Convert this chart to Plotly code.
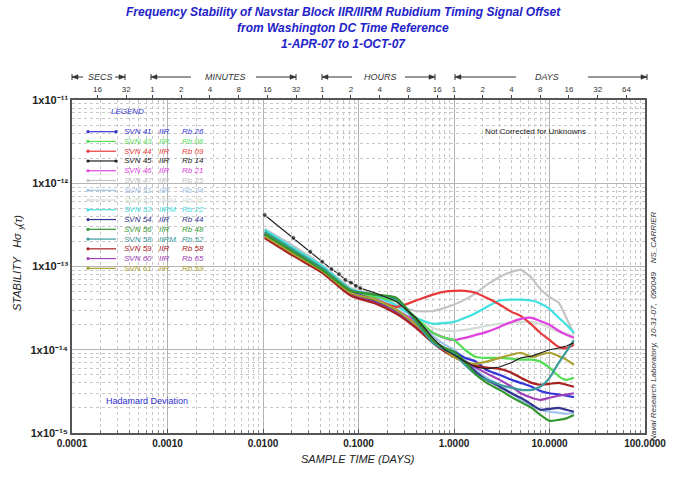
import plotly.graph_objects as go

# ---------------- data ----------------
tau_days = [0.0104, 0.0208, 0.0417, 0.0833, 0.15, 0.25, 0.4, 0.6, 0.8, 1.0, 1.3, 1.7,
            2.2, 3, 4, 5, 6.5, 8, 10, 12.5, 15, 18]
tau_black = [0.0104, 0.0208, 0.03125, 0.0417, 0.0521, 0.0625, 0.0729, 0.0833, 0.0938, 0.1042,
             0.15, 0.25, 0.4, 0.6, 0.8, 1.0, 1.3, 1.7, 2.2, 3, 4, 5, 6.5, 8, 10, 12.5, 15, 18]

# stability values in units of 1e-14
svn41 = [24.6, 15.0, 9.1, 5.0, 3.9, 2.85, 2.0, 1.31, 1.0, 0.95, 0.80, 0.72, 0.57, 0.50, 0.435, 0.40, 0.36, 0.32, 0.30, 0.29, 0.28, 0.27]
svn43 = [26.0, 15.8, 9.6, 5.2, 4.3, 3.8, 2.42, 1.6, 1.39, 1.31, 1.0, 0.82, 0.80, 0.80, 0.78, 0.76, 0.76, 0.72, 0.61, 0.48, 0.435, 0.46]
svn44 = [25.3, 15.4, 9.3, 5.1, 4.0, 3.27, 3.9, 4.6, 5.0, 5.1, 5.1, 4.8, 4.2, 3.5, 2.85, 2.55, 2.0, 1.6, 1.31, 1.08, 1.05, 1.15]
svn45 = [41.6, 22.0, 15.0, 11.4, 9.3, 8.1, 6.9, 6.4, 5.85, 5.5, 4.8, 3.8, 2.42, 1.39, 1.0, 0.87, 0.72, 0.62, 0.59, 0.62, 0.70, 0.80, 0.84, 0.92, 1.0, 1.05, 1.11, 1.21]
svn46 = [25.3, 15.4, 9.3, 5.2, 4.1, 2.92, 2.22, 1.6, 1.39, 1.31, 1.39, 1.51, 1.64, 1.88, 2.16, 2.35, 2.42, 2.22, 2.0, 1.69, 1.51, 1.39]
svn47 = [28.2, 17.7, 10.4, 5.5, 4.6, 3.5, 2.92, 2.92, 3.18, 3.5, 4.0, 4.8, 6.0, 7.5, 8.6, 9.1, 7.3, 5.35, 4.3, 3.66, 2.42, 1.55]
svn51 = [27.5, 16.6, 10.1, 5.35, 4.3, 3.1, 2.16, 1.47, 1.15, 1.0, 0.76, 0.57, 0.46, 0.38, 0.30, 0.25, 0.21, 0.19, 0.18, 0.175, 0.17, 0.175]
svn52 = [27.5, 16.6, 10.1, 5.35, 4.3, 3.38, 2.42, 1.83, 1.69, 1.69, 1.73, 1.83, 1.94, 2.05, 2.1, 2.16, 2.16, 2.05, 1.83, 1.64, 1.55, 1.47]
svn53 = [27.5, 16.6, 10.1, 5.35, 4.45, 3.38, 2.42, 2.05, 2.1, 2.16, 2.42, 2.77, 3.27, 3.9, 4.0, 4.0, 3.9, 3.6, 3.1, 2.42, 2.0, 1.6]
svn54 = [23.9, 14.6, 8.85, 4.8, 3.8, 2.85, 1.88, 1.25, 1.0, 0.87, 0.72, 0.54, 0.435, 0.36, 0.30, 0.265, 0.22, 0.19, 0.195, 0.20, 0.19, 0.18]
svn56 = [24.6, 15.0, 9.1, 5.1, 4.6, 4.2, 2.28, 1.31, 1.05, 0.95, 0.72, 0.50, 0.40, 0.33, 0.27, 0.235, 0.20, 0.165, 0.14, 0.144, 0.15, 0.165]
svn58 = [26.0, 15.8, 9.6, 5.2, 4.6, 4.0, 2.16, 1.21, 1.0, 0.9, 0.66, 0.50, 0.435, 0.38, 0.35, 0.33, 0.33, 0.36, 0.46, 0.70, 0.95, 1.31]
svn59 = [22.0, 13.4, 8.4, 4.45, 3.6, 2.7, 1.83, 1.21, 0.95, 0.82, 0.72, 0.64, 0.61, 0.59, 0.53, 0.46, 0.40, 0.38, 0.39, 0.40, 0.38, 0.36]
svn60 = [22.6, 13.8, 8.6, 4.6, 3.66, 2.77, 1.88, 1.28, 1.0, 0.87, 0.72, 0.61, 0.52, 0.435, 0.36, 0.30, 0.265, 0.25, 0.265, 0.28, 0.29, 0.30]
svn61 = [23.2, 14.2, 8.85, 4.8, 4.0, 3.0, 2.0, 1.31, 1.0, 0.82, 0.70, 0.68, 0.72, 0.80, 0.87, 0.92, 0.82, 0.87, 0.92, 0.84, 0.76, 0.66]

labels_svn = ["SVN 41", "SVN 43", "SVN 44", "SVN 45", "SVN 46", "SVN 47", "SVN 51", "SVN 52",
              "SVN 53", "SVN 54", "SVN 56", "SVN 58", "SVN 59", "SVN 60", "SVN 61"]
labels_block = ["IIR", "IIR", "IIR", "IIR", "IIR", "IIR", "IIR", "IIRM",
                "IIRM", "IIR", "IIR", "IIRM", "IIR", "IIR", "IIR"]
labels_rb = ["Rb 26", "Rb 06", "Rb 09", "Rb 14", "Rb 21", "Rb 25", "Rb 24", "Rb 35",
             "Rb 22", "Rb 44", "Rb 48", "Rb 52", "Rb 58", "Rb 65", "Rb 59"]
series = [svn41, svn43, svn44, svn45, svn46, svn47, svn51, svn52, svn53, svn54, svn56, svn58, svn59, svn60, svn61]
colors = ["#3535d8", "#55dd55", "#e83a3a", "#202020", "#e040e0", "#c4c4c4", "#9fc3ea", "#d3ddd3",
          "#3fe0e0", "#353590", "#34962f", "#3a9a9a", "#a82020", "#a040b8", "#aaa030"]
marked = [True, False, False, True, False, False, False, False, False, False, False, False, False, False, False]

x_tick_vals = [1e-4, 1e-3, 1e-2, 1e-1, 1, 10, 100]
x_tick_text = ["0.0001", "0.0010", "0.0100", "0.1000", "1.0000", "10.0000", "100.0000"]
y_tick_vals = [1e-15, 1e-14, 1e-13, 1e-12, 1e-11]
y_tick_text = ["1x10⁻¹⁵", "1x10⁻¹⁴", "1x10⁻¹³", "1x10⁻¹²", "1x10⁻¹¹"]
sec_ticks = [16, 32]
min_ticks = [1, 2, 4, 8, 16, 32]
hour_ticks = [1, 2, 4, 8, 16]
day_ticks = [1, 2, 4, 8, 16, 32, 64]

# ---------------- geometry helpers (layout only) ----------------
W, H = 683, 491
L, R, T, B = 72, 645, 100, 433


def px(x):
    return (x - L) / (R - L)


def py(y):
    return (B - y) / (B - T)


FONT = "Liberation Sans, Arial, sans-serif"
fig = go.Figure()

draw_order = [5, 7, 6, 8, 2, 4, 1, 0, 9, 13, 12, 14, 11, 10, 3]
for i in draw_order:
    vals = [v * 1e-14 for v in series[i]]
    if labels_svn[i] == "SVN 45":
        sizes = [5 if t < 0.11 else 0 for t in tau_black]
        fig.add_trace(go.Scatter(x=tau_black, y=vals, mode="lines+markers",
                                 line=dict(color=colors[i], width=1.2),
                                 marker=dict(size=sizes, color=colors[i]),
                                 showlegend=False, hoverinfo="skip"))
    else:
        fig.add_trace(go.Scatter(x=tau_days, y=vals, mode="lines",
                                 line=dict(color=colors[i], width=2.2, shape="spline", smoothing=0.6),
                                 showlegend=False, hoverinfo="skip"))

# dummy trace so the top axis is drawn
fig.add_trace(go.Scatter(x=[1e-4, 100], y=[1e-15, 1e-15], xaxis="x2", mode="none",
                         showlegend=False, hoverinfo="skip"))

top_vals = [s / 86400 for s in sec_ticks] + [m / 1440 for m in min_ticks] + \
           [h / 24 for h in hour_ticks] + [float(d) for d in day_ticks]
top_text = [str(v) for v in sec_ticks + min_ticks + hour_ticks + day_ticks]

minor_x = [k * 10 ** e for e in range(-4, 2) for k in range(2, 10)]
minor_y = [k * 10.0 ** e for e in range(-15, -11) for k in range(2, 10)]

fig.update_layout(
    width=W, height=H,
    margin=dict(l=L, r=W - R, t=T, b=H - B),
    paper_bgcolor="white", plot_bgcolor="white",
    font=dict(family=FONT, color="black"),
    showlegend=False,
    xaxis=dict(type="log", range=[-4, 2],
               tickmode="array", tickvals=x_tick_vals, ticktext=x_tick_text,
               tickfont=dict(size=10, color="#222", weight="bold"),
               showgrid=True, gridcolor="#b4b4b4", gridwidth=1,
               ticks="inside", ticklen=4, tickcolor="#555",
               minor=dict(tickmode="array", tickvals=minor_x, showgrid=True,
                          gridcolor="#c8c8c8", griddash="dot", ticks="inside", ticklen=3,
                          tickcolor="#777"),
               showline=True, linecolor="#555", linewidth=1.5, zeroline=False),
    xaxis2=dict(type="log", range=[-4, 2], overlaying="x", side="top", anchor="y",
                tickmode="array", tickvals=top_vals, ticktext=top_text,
                tickfont=dict(size=8, color="#333"),
                ticks="outside", ticklen=3, tickcolor="#444",
                showgrid=False, showline=True, linecolor="#555", linewidth=1.5),
    yaxis=dict(type="log", range=[-15, -11],
               tickmode="array", tickvals=y_tick_vals, ticktext=y_tick_text,
               tickfont=dict(size=11, color="#222", weight="bold"),
               showgrid=True, gridcolor="#b4b4b4", gridwidth=1,
               ticks="",
               minor=dict(tickmode="array", tickvals=minor_y, showgrid=True,
                          gridcolor="#c8c8c8", griddash="dot"),
               showline=True, mirror=True, linecolor="#555", linewidth=1.5, zeroline=False),
)

ann = []
shapes = []
TITLE_C = "#2222c8"
for txt, yy in [("Frequency Stability of Navstar Block IIR/IIRM Rubidium Timing Signal Offset", 12),
                ("from Washington DC Time Reference", 28),
                ("1-APR-07 to 1-OCT-07", 44)]:
    ann.append(dict(text=txt, x=px(343), y=py(yy), xref="paper", yref="paper",
                    showarrow=False, xanchor="center", yanchor="middle",
                    font=dict(size=12, color=TITLE_C, family=FONT, weight="bold", style="italic")))

for txt, cx in [("SECS", 100), ("MINUTES", 225), ("HOURS", 380), ("DAYS", 547)]:
    ann.append(dict(text=txt, x=px(cx), y=py(77), xref="paper", yref="paper",
                    showarrow=False, xanchor="center", yanchor="middle",
                    font=dict(size=9, color="#333", family=FONT, style="italic")))
AY = 77
for head, tail in [(72, 83), (125, 115), (151, 191), (296, 256), (322, 352), (435, 405),
                   (455, 516), (647, 588)]:
    shapes.append(dict(type="line", xref="paper", yref="paper", x0=px(head), x1=px(tail),
                       y0=py(AY), y1=py(AY), line=dict(color="#333", width=1)))
    d = 6 if tail > head else -6
    path = "M %.5f %.5f L %.5f %.5f L %.5f %.5f Z" % (
        px(head), py(AY), px(head + d), py(AY - 2.3), px(head + d), py(AY + 2.3))
    shapes.append(dict(type="path", xref="paper", yref="paper", path=path,
                       fillcolor="#333", line=dict(color="#333", width=0.5)))
    shapes.append(dict(type="line", xref="paper", yref="paper", x0=px(head), x1=px(head),
                       y0=py(AY - 3), y1=py(AY + 3), line=dict(color="#333", width=1)))

ann.append(dict(text="LEGEND", x=px(109), y=py(111), xref="paper", yref="paper",
                showarrow=False, xanchor="left", yanchor="middle",
                font=dict(size=8, color="#3333cc", family=FONT, style="italic")))
for k in range(15):
    yy = 131.7 + k * 9.76
    c = colors[k]
    shapes.append(dict(type="line", xref="paper", yref="paper", x0=px(88), x1=px(116),
                       y0=py(yy), y1=py(yy), line=dict(color=c, width=1.2)))
    ends = [88, 116] if marked[k] else [88]
    for ex in ends:
        shapes.append(dict(type="circle", xref="paper", yref="paper",
                           x0=px(ex - 1.6), x1=px(ex + 1.6), y0=py(yy + 1.6), y1=py(yy - 1.6),
                           fillcolor=c, line=dict(color=c, width=0)))
    for txt, xx in [(labels_svn[k], 122), (labels_block[k], 157), (labels_rb[k], 180)]:
        ann.append(dict(text=txt, x=px(xx), y=py(yy), xref="paper", yref="paper",
                        showarrow=False, xanchor="left", yanchor="middle",
                        font=dict(size=8, color=c, family=FONT, style="italic")))

ann.append(dict(text="Not Corrected for Unknowns", x=px(535), y=py(131), xref="paper", yref="paper",
                showarrow=False, xanchor="center", yanchor="middle",
                font=dict(size=8, color="#222", family=FONT)))
ann.append(dict(text="Hadamard Deviation", x=px(104), y=py(401), xref="paper", yref="paper",
                showarrow=False, xanchor="left", yanchor="middle",
                font=dict(size=9, color="#3030d0", family=FONT)))
ann.append(dict(text="Naval Research Laboratory,  10-31-07,  090049    NS_CARRIER",
                x=px(653), y=py(326), xref="paper", yref="paper", textangle=-90,
                showarrow=False, xanchor="center", yanchor="middle",
                font=dict(size=8, color="#333", family=FONT, style="italic")))
ann.append(dict(text="SAMPLE TIME (DAYS)", x=px(358), y=py(459), xref="paper", yref="paper",
                showarrow=False, xanchor="center", yanchor="middle",
                font=dict(size=11, color="#222", family=FONT, style="italic")))

# y-axis title built from pieces (rotated, reading bottom to top)
YT_X, YT_JOIN = 17, 232
ann.append(dict(text="STABILITY   Hσ", x=px(YT_X), y=py(YT_JOIN), xref="paper", yref="paper",
                textangle=-90, showarrow=False, xanchor="center", yanchor="top", borderpad=0,
                font=dict(size=11, color="#222", family=FONT, style="italic")))
ann.append(dict(text="y", x=px(YT_X + 3.5), y=py(YT_JOIN), xref="paper", yref="paper",
                textangle=-90, showarrow=False, xanchor="center", yanchor="bottom", borderpad=0,
                font=dict(size=8, color="#222", family=FONT, style="italic")))
ann.append(dict(text="(τ)", x=px(YT_X), y=py(YT_JOIN - 4.5), xref="paper", yref="paper",
                textangle=-90, showarrow=False, xanchor="center", yanchor="bottom", borderpad=0,
                font=dict(size=11, color="#222", family=FONT, style="italic")))

fig.update_layout(annotations=ann, shapes=shapes)
fig.write_html("out.html")
